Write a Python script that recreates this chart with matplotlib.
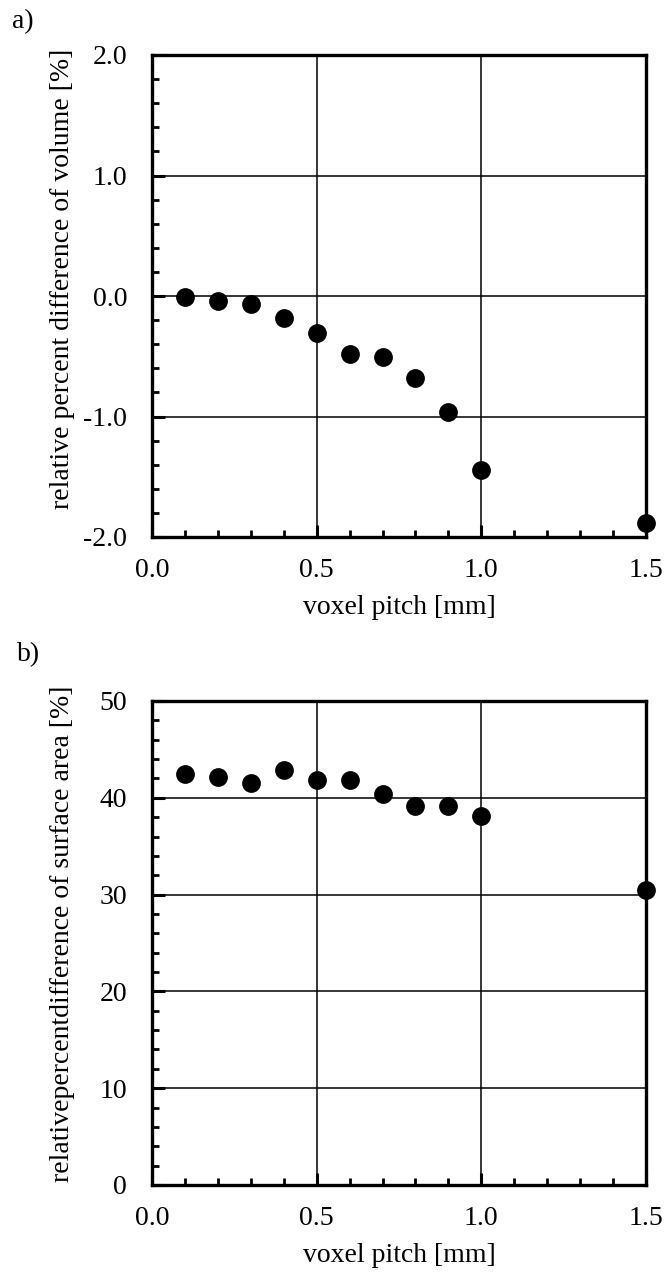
import matplotlib
matplotlib.use("Agg")
import matplotlib.pyplot as plt
from matplotlib.ticker import MultipleLocator, FormatStrFormatter

# data
voxel_pitch = [0.1, 0.2, 0.3, 0.4, 0.5, 0.6, 0.7, 0.8, 0.9, 1.0, 1.5]
volume_diff = [-0.01, -0.04, -0.07, -0.18, -0.31, -0.48, -0.51, -0.68, -0.96, -1.44, -1.88]
surface_diff = [42.5, 42.2, 41.5, 42.9, 41.8, 41.8, 40.4, 39.2, 39.2, 38.1, 30.5]

x_ticks = [0.0, 0.5, 1.0, 1.5]
vol_ticks = [-2.0, -1.0, 0.0, 1.0, 2.0]
surf_ticks = [0, 10, 20, 30, 40, 50]

plt.rcParams['font.family'] = ['Liberation Serif', 'DejaVu Serif']
FS = 20

W, H = 665, 1272
fig = plt.figure(figsize=(W / 100, H / 100), dpi=100)

def rect(l, t, r, b):
    return [l / W, 1 - b / H, (r - l) / W, (b - t) / H]

ax1 = fig.add_axes(rect(152, 55, 646, 537))
ax2 = fig.add_axes(rect(152, 701, 646, 1185))

def style(ax, ylim, yticks, yminor, fmt, ylabel, ylab_y):
    ax.set_xlim(0, 1.5)
    ax.set_ylim(*ylim)
    ax.set_xticks(x_ticks)
    ax.set_yticks(yticks)
    ax.xaxis.set_minor_locator(MultipleLocator(0.1))
    ax.yaxis.set_minor_locator(MultipleLocator(yminor))
    ax.xaxis.set_major_formatter(FormatStrFormatter('%.1f'))
    ax.yaxis.set_major_formatter(FormatStrFormatter(fmt))
    ax.grid(True, which='major', color='black', linewidth=1.1)
    ax.set_axisbelow(True)
    for s in ax.spines.values():
        s.set_linewidth(2.4)
        s.set_color('black')
    ax.tick_params(which='both', direction='in', top=False, right=False,
                   labelsize=FS, colors='black')
    ax.tick_params(axis='x', which='major', pad=15)
    ax.tick_params(axis='y', which='major', pad=18)
    ax.tick_params(which='major', length=9, width=2.2)
    ax.tick_params(which='minor', length=5, width=2.0)
    ax.set_xlabel('voxel pitch [mm]', fontsize=FS, labelpad=9)
    ax.set_ylabel(ylabel, fontsize=FS)
    ax.yaxis.set_label_coords(-0.155, ylab_y)

ax1.plot(voxel_pitch, volume_diff, 'o', color='black', markersize=12.5, clip_on=False, zorder=5)
style(ax1, (-2.0, 2.0), vol_ticks, 0.2, '%.1f',
      'relative percent difference of volume [%]', 0.535)
ax2.plot(voxel_pitch, surface_diff, 'o', color='black', markersize=12.5, clip_on=False, zorder=5)
style(ax2, (0, 50), surf_ticks, 2, '%d',
      'relativepercentdifference of surface area [%]', 0.52)

fig.text(12 / W, 1 - 22 / H, 'a)', fontsize=FS, va='center', ha='left')
fig.text(17 / W, 1 - 655 / H, 'b)', fontsize=FS, va='center', ha='left')

fig.savefig('out.png', dpi=100)
